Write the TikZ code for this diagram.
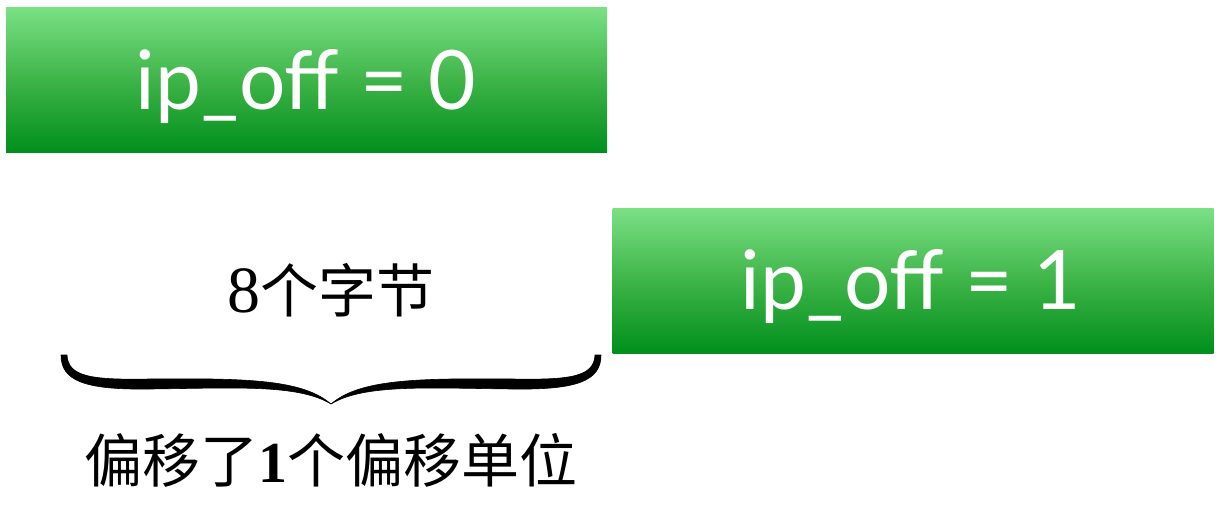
\documentclass[tikz,border=0pt]{standalone}
\usepackage{fontspec}
\setmainfont{Liberation Serif}
\newfontfamily\cjk{Noto Sans CJK SC}
\newfontfamily\boxfont{Lato}
\definecolor{gtop}{RGB}{122,224,132}
\definecolor{gmid}{RGB}{62,180,72}
\definecolor{gbot}{RGB}{0,143,28}
\tikzset{
  offbox/.style={rectangle, inner sep=0pt, minimum width=601pt, minimum height=145pt,
    top color=gtop, bottom color=gbot, middle color=gmid, draw=none,
    text=white, font=\boxfont\fontsize{80}{96}\selectfont},
  label/.style={text=black, inner sep=0pt, font=\cjk\fontsize{58}{70}\selectfont},
  bracefill/.style={fill=black, draw=black, line width=0.6pt, line join=round}
}
\begin{document}
\begin{tikzpicture}[x=1pt,y=-1pt]
\useasboundingbox (0,0) rectangle (1225,508);
\node[offbox] (b0) at (306.5,80) {};
\node[offbox] (b1) at (913,281) {};
\node[text=white, inner sep=0pt, font=\boxfont\fontsize{82}{96}\selectfont] (t0) at (306,86) {ip\_off = 0};
\node[text=white, inner sep=0pt, font=\boxfont\fontsize{82}{96}\selectfont] (t1) at (911,286) {ip\_off = 1};
\node[label] (bytes) at (331,290) {{\rmfamily\fontsize{66}{70}\selectfont 8}个字节};
\node[label] (unit) at (331,460) {偏移了{\rmfamily\bfseries 1}个偏移单位};
% brace
\coordinate (tip) at (331,404);
\fill[bracefill] (61,355) .. controls (61,381) and (85,390) .. (150,389)
  .. controls (235,388) and (298,384) .. (tip)
  .. controls (303,380) and (250,378) .. (150,379)
  .. controls (92,380) and (68,377) .. (67,355) -- cycle;
\fill[bracefill] (601,355) .. controls (601,381) and (577,390) .. (512,389)
  .. controls (427,388) and (364,384) .. (tip)
  .. controls (359,380) and (412,378) .. (512,379)
  .. controls (570,380) and (594,377) .. (595,355) -- cycle;
\end{tikzpicture}
\end{document}
